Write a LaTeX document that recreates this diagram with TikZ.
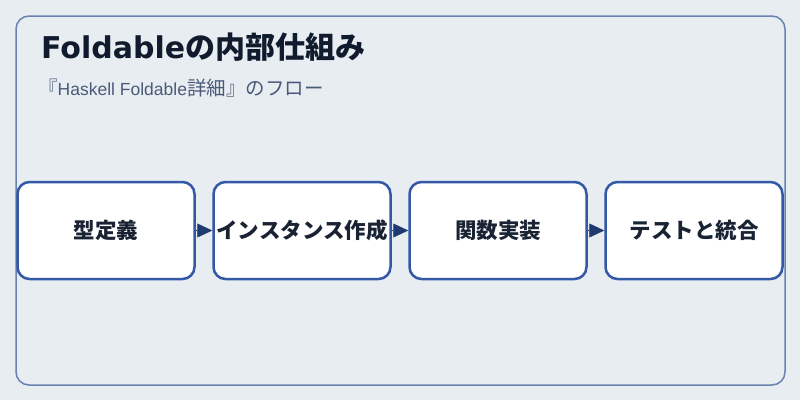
\documentclass[tikz,border=0pt]{standalone}
\usepackage{fontspec}
\setmainfont{Noto Sans CJK JP}
\newfontfamily\dvfont{DejaVu Sans}
\newfontfamily\libfont{Liberation Sans}
\usetikzlibrary{arrows.meta}
\definecolor{bgcol}{HTML}{E8EDF2}
\definecolor{framecol}{HTML}{6A80B0}
\definecolor{boxcol}{HTML}{3358A5}
\definecolor{arrowcol}{HTML}{1E3A70}
\definecolor{titlecol}{HTML}{111B2E}
\definecolor{subcol}{HTML}{4A5A78}
\definecolor{txtcol}{HTML}{1A2333}
\tikzset{
  stepbox/.style={draw=boxcol, line width=2.5pt, fill=white, rounded corners=12pt,
    minimum width=177pt, minimum height=97pt, inner sep=0pt, text=txtcol,
    font=\bfseries\fontsize{21.5}{25}\selectfont},
  flowarrow/.style={draw=arrowcol, line width=0.5pt, -{Triangle[length=15pt,width=14pt]}, fill=arrowcol},
}
\begin{document}
\begin{tikzpicture}[x=1pt,y=-1pt]
\useasboundingbox (0,0) rectangle (800,400);
\fill[bgcol] (0,0) rectangle (800,400);
\draw[framecol, line width=1.5pt, rounded corners=13pt] (16,16) rectangle (785,385);
\node[anchor=west, inner sep=0pt, text=titlecol, font=\bfseries\fontsize{30}{34}\selectfont] (title) at (41,47) {{\dvfont\bfseries Foldable}の内部仕組み};
\node[anchor=west, inner sep=0pt, text=subcol, font=\fontsize{19.5}{23}\selectfont] (sub) at (38,88) {『{\libfont\fontsize{17.5}{22}\selectfont Haskell Foldable}詳細』のフロー};
\node[stepbox] (b1) at (106,230.5) {型定義};
\node[stepbox] (b2) at (302,230.5) {インスタンス作成};
\node[stepbox] (b3) at (498,230.5) {関数実装};
\node[stepbox] (b4) at (694,230.5) {テストと統合};
\draw[flowarrow] (b1) -- (b2);
\draw[flowarrow] (b2) -- (b3);
\draw[flowarrow] (b3) -- (b4);
\end{tikzpicture}
\end{document}
